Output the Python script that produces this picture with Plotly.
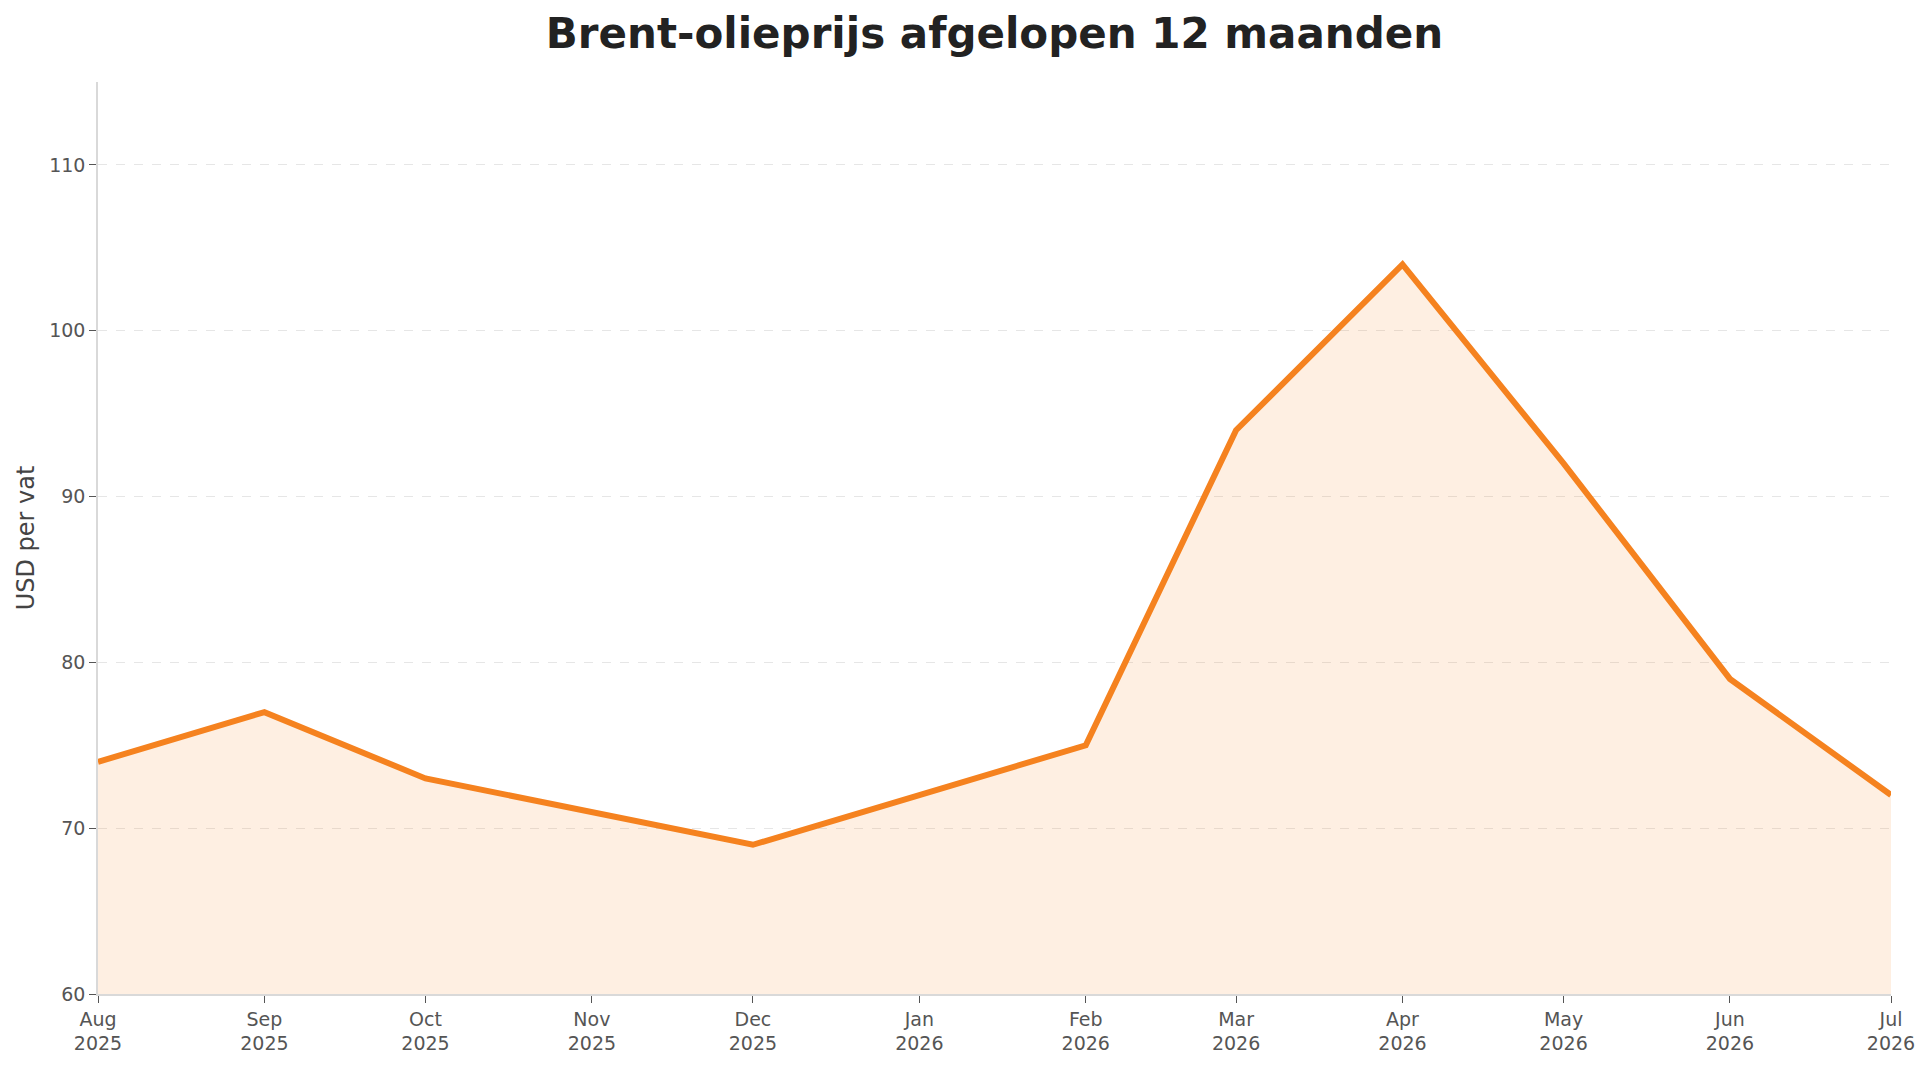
import plotly.graph_objects as go

months = ["2025-08-01", "2025-09-01", "2025-10-01", "2025-11-01", "2025-12-01", "2026-01-01",
          "2026-02-01", "2026-03-01", "2026-04-01", "2026-05-01", "2026-06-01", "2026-07-01"]
prices = [74, 77, 73, 71, 69, 72, 75, 94, 104, 92, 79, 72]
tick_labels = ["Aug<br>2025", "Sep<br>2025", "Oct<br>2025", "Nov<br>2025", "Dec<br>2025", "Jan<br>2026",
               "Feb<br>2026", "Mar<br>2026", "Apr<br>2026", "May<br>2026", "Jun<br>2026", "Jul<br>2026"]
y_ticks = [60, 70, 80, 90, 100, 110]

FONT = "DejaVu Sans"

fig = go.Figure()
fig.add_trace(go.Scatter(
    x=months, y=prices, mode="lines",
    line=dict(color="#f5821f", width=6),
    fill="tozeroy", fillcolor="rgba(245,130,31,0.13)",
    hoverinfo="skip", showlegend=False,
))

fig.update_layout(
    width=1930, height=1066,
    margin=dict(l=98, r=39, t=82, b=69),
    paper_bgcolor="white", plot_bgcolor="white",
    font=dict(family=FONT, color="#555555", size=19),
    title=dict(text="<b>Brent-olieprijs afgelopen 12 maanden</b>",
               font=dict(family=FONT, size=42, color="#222222"),
               x=0.5, xref="paper", xanchor="center",
               y=1 - 33 / 1066, yref="container", yanchor="middle"),
    xaxis=dict(
        type="date", range=[months[0], months[-1]],
        tickmode="array", tickvals=months, ticktext=tick_labels,
        showgrid=False, zeroline=False,
        showline=True, linecolor="#d9d9d9", linewidth=1.5,
        ticks="outside", ticklen=7, tickcolor="#555555", tickwidth=1.2,
        tickfont=dict(family=FONT, size=19, color="#555555"),
    ),
    yaxis=dict(
        range=[60, 115], tickmode="array", tickvals=y_ticks,
        showgrid=True, gridcolor="#e6e6e6", griddash="dash", gridwidth=1,
        zeroline=False,
        showline=True, linecolor="#d9d9d9", linewidth=1.5,
        ticks="outside", ticklen=7, tickcolor="#555555", tickwidth=1.2,
        tickfont=dict(family=FONT, size=19, color="#555555"),
        title=dict(text="USD per vat", font=dict(family=FONT, size=24, color="#444444"), standoff=8),
    ),
)

fig.write_html("out.html")
